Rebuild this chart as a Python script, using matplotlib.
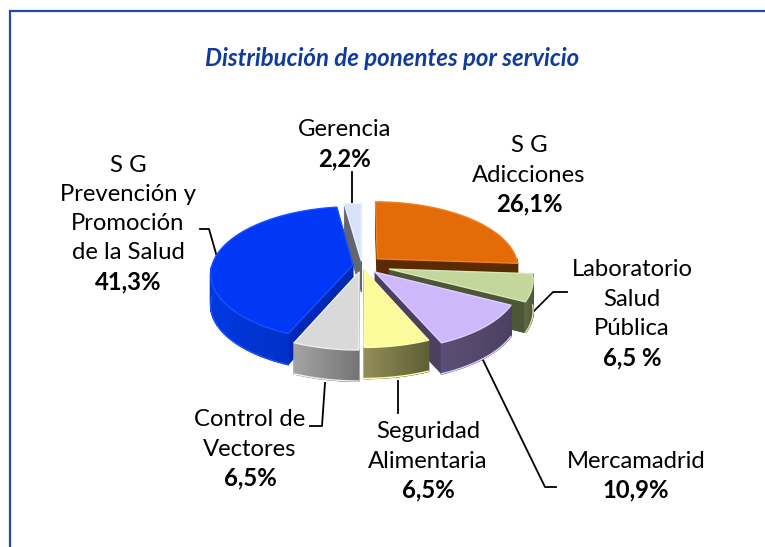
import numpy as np
import matplotlib
matplotlib.use('Agg')
import matplotlib.pyplot as plt
from matplotlib.colors import to_rgb
from matplotlib.patches import Polygon

names = ['S G\nAdicciones', 'Laboratorio\nSalud\nPública', 'Mercamadrid',
         'Seguridad\nAlimentaria', 'Control de\nVectores',
         'S G\nPrevención y\nPromoción\nde la Salud', 'Gerencia']
values = [26.1, 6.5, 10.9, 6.5, 6.5, 41.3, 2.2]
value_labels = ['26,1%', '6,5 %', '10,9%', '6,5%', '6,5%', '41,3%', '2,2%']
title = 'Distribución de ponentes por servicio'

explode = [0.15, 0.20, 0.135, 0.07, 0.10, 0.065, 0.07]
top_colors = ['#E36C09', '#C3D69B', '#CCB8FA', '#FBFB9C', '#D9D9D9', '#0038F5', '#D9E2FB']
rim_left = ['#7A3A05', '#5E6844', '#5C4F76', '#918E58', '#A3A3A3', '#0038E0', '#7A7F90']
rim_right = ['#5A2A00', '#4E5638', '#4C4060', '#5F5E36', '#757575', '#002CB8', '#5F6372']
cut_colors = ['#5A2A00', '#4E5638', '#4C4060', '#5F5E36', '#757575', '#0028B4', '#62666F']
edge_colors = ['#F08020', '#D8E6B8', '#DCD0FF', '#FFFFB0', '#EEEEEE', '#1A50FF', '#E8EEFF']

# label centre x, first line y
label_pos = [(529, 146), (632, 270), (636, 461), (428, 432), (250, 420), (128, 165), (345, 130)]
leaders = [
    [(567, 292), (553, 292), (527, 318)],
    [(482, 358), (545, 487), (556, 487)],
    [(398, 381), (398, 413)],
    [(325, 383), (322, 426), (310, 426)],
    [(200, 229), (209, 229), (217, 257)],
    [(352, 172), (352, 203)],
]

CX, CY = 362, 265.5
A, K, P = 141, 66, 0.13
DEPTH = 31
LINE_STEP = 29.2


def project(u, v, z=0.0):
    w = 1 - P * v
    return np.column_stack([CX + A * u / w, CY + K * v / w + DEPTH * z])


def ring(t, e, mid):
    # disk coordinates of the rim, t measured clockwise from the top
    u = np.sin(t) + e * np.sin(mid)
    v = -np.cos(t) - e * np.cos(mid)
    return u, v


def draw_slice(ax, t0, t1, e, top, left, right, cut, edge, zo):
    mid = (t0 + t1) / 2
    t = np.linspace(t0, t1, 80)
    u, v = ring(t, e, mid)
    au, av = np.array([e * np.sin(mid)]), np.array([-e * np.cos(mid)])

    # cut faces
    for i in [0, -1]:
        pts = np.vstack([project(au, av), project(u[[i]], v[[i]]),
                         project(u[[i]], v[[i]], 1), project(au, av, 1)])
        ax.add_patch(Polygon(pts, facecolor=cut, edgecolor=cut, lw=0.6, zorder=zo))

    # rim, split up to get the left to right shading
    upper, lower = project(u, v), project(u, v, 1)
    facing = -np.cos(t) > -0.02
    x0, x1 = upper[:, 0].min(), upper[:, 0].max()
    for i in range(len(t) - 1):
        if not (facing[i] and facing[i + 1]):
            continue
        f = (upper[i, 0] - x0) / max(x1 - x0, 1)
        c = (1 - f) * np.array(to_rgb(left)) + f * np.array(to_rgb(right))
        quad = np.vstack([upper[i], upper[i + 1], lower[i + 1], lower[i]])
        ax.add_patch(Polygon(quad, facecolor=c, edgecolor=c, lw=1.2, zorder=zo + 0.1))
    if facing.any():
        ax.plot(lower[facing, 0], lower[facing, 1], color=edge, lw=1.0,
                solid_capstyle='round', zorder=zo + 0.2)

    # top surface
    poly = np.vstack([project(au, av), upper])
    ax.add_patch(Polygon(poly, facecolor=top, edgecolor=edge, lw=1.0,
                         joinstyle='round', zorder=zo + 0.3))


fig = plt.figure(figsize=(7.65, 5.47), dpi=100)
ax = fig.add_axes([0, 0, 1, 1])
ax.set_xlim(0, 765)
ax.set_ylim(547, 0)
ax.axis('off')

# frame
ax.plot([10, 10, 765], [547, 11, 11], color='#1F4BA8', lw=1.6, solid_joinstyle='miter')

ax.text(392, 58, title, color='#0F3A9E', fontsize=17.3, family='Lato',
        weight='bold', style='italic', ha='center', va='center')

edges = np.radians(np.concatenate([[0], np.cumsum(values)]) / sum(values) * 360)
mids = (edges[:-1] + edges[1:]) / 2
# back slices first
for n, i in enumerate(np.argsort(-np.cos(mids))):
    draw_slice(ax, edges[i], edges[i + 1], explode[i], top_colors[i], rim_left[i],
               rim_right[i], cut_colors[i], edge_colors[i], 2 + n)

for pts in leaders:
    xs, ys = zip(*pts)
    ax.plot(xs, ys, color='black', lw=1.3, zorder=1)

for name, val, (x, y) in zip(names, value_labels, label_pos):
    lines = name.split('\n')
    for j, line in enumerate(lines):
        ax.text(x, y + j * LINE_STEP, line, fontsize=17.2, family='Lato', color='black',
                ha='center', va='center')
    ax.text(x, y + len(lines) * LINE_STEP, val, fontsize=17.2, family='Lato', weight='bold',
            color='black', ha='center', va='center')

fig.savefig('out.png', dpi=100)
